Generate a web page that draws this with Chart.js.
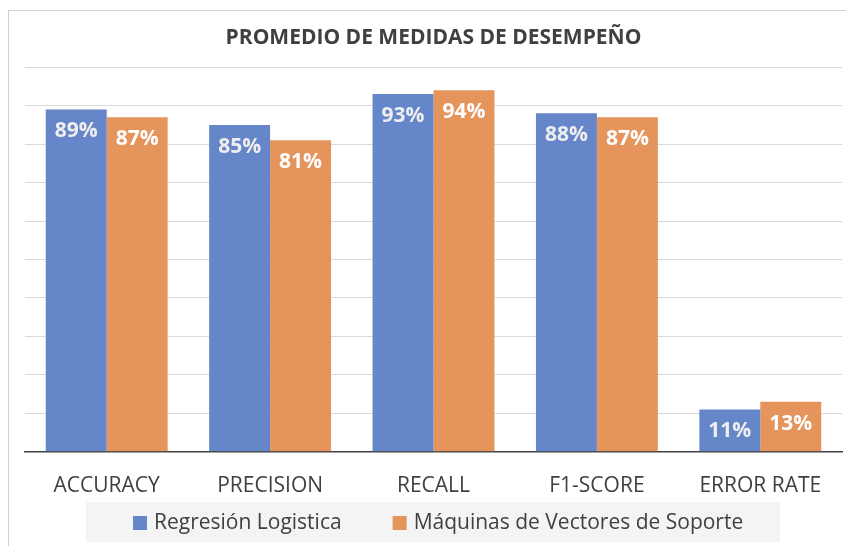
<!DOCTYPE html>
<html>
<head>
<meta charset="utf-8">
<script src="https://cdn.jsdelivr.net/npm/chart.js@4.4.1/dist/chart.umd.min.js"></script>
<style>
  body { margin: 0; background: #fff; }
  canvas { display: block; }
</style>
</head>
<body>
<canvas id="barChart" width="846" height="546"></canvas>
<script>
const categories = ['ACCURACY', 'PRECISION', 'RECALL', 'F1-SCORE', 'ERROR RATE'];
const regresionLogistica = [0.89, 0.85, 0.93, 0.88, 0.11];
const maquinasVectores = [0.87, 0.81, 0.94, 0.87, 0.13];
const seriesNames = ['Regresión Logistica', 'Máquinas de Vectores de Soporte'];

const fontFamily = "'Open Sans', sans-serif";
const textColor = '#404040';

// border, legend (with grey band) and the value labels inside the bars
const extras = {
  id: 'extras',
  beforeDraw(chart) {
    const c = chart.ctx;
    c.save();
    c.strokeStyle = '#d0d0d0';
    c.lineWidth = 1;
    c.strokeRect(8.5, 10.5, 846, 546);
    c.fillStyle = '#f4f4f4';
    c.fillRect(86, 502, 694, 40);
    c.restore();
  },
  afterDraw(chart) {
    const c = chart.ctx;
    c.save();
    c.font = '21px ' + fontFamily;
    c.textBaseline = 'middle';
    let x = 133;
    chart.data.datasets.forEach((ds, i) => {
      c.fillStyle = ds.backgroundColor;
      c.fillRect(x, 516, 14, 14);
      c.fillStyle = textColor;
      c.fillText(ds.label, x + 21, 523);
      x += 21 + c.measureText(ds.label).width + 51;
    });
    c.restore();
  },
  afterDatasetsDraw(chart) {
    const c = chart.ctx;
    c.save();
    c.font = 'bold 21px ' + fontFamily;
    c.textAlign = 'center';
    c.textBaseline = 'middle';
    chart.data.datasets.forEach((ds, i) => {
      chart.getDatasetMeta(i).data.forEach((bar, j) => {
        c.fillStyle = i === 0 ? '#eeeeee' : '#ffffff';
        c.fillText(Math.round(ds.data[j] * 100) + '%', bar.x, bar.y + 22);
      });
    });
    c.restore();
  }
};

new Chart(document.getElementById('barChart'), {
  type: 'bar',
  data: {
    labels: categories,
    datasets: [{
      label: seriesNames[0],
      data: regresionLogistica,
      backgroundColor: '#6686ca',
      categoryPercentage: 0.746,
      barPercentage: 1
    }, {
      label: seriesNames[1],
      data: maquinasVectores,
      backgroundColor: '#e5945c',
      categoryPercentage: 0.746,
      barPercentage: 1
    }]
  },
  options: {
    responsive: false,
    animation: false,
    layout: { padding: { left: 25, right: 4, top: 0, bottom: 33 } },
    scales: {
      x: {
        grid: { display: false },
        border: { color: '#404040', width: 1.5 },
        ticks: { color: textColor, font: { family: fontFamily, size: 21 }, padding: 14 }
      },
      y: {
        min: 0,
        max: 1,
        ticks: { display: false, stepSize: 0.1 },
        border: { display: false },
        grid: { color: '#d9d9d9', drawTicks: false }
      }
    },
    plugins: {
      title: {
        display: true,
        text: 'PROMEDIO DE MEDIDAS DE DESEMPEÑO',
        color: textColor,
        font: { family: fontFamily, size: 21, weight: 'bold' },
        padding: { top: 25, bottom: 17 }
      },
      legend: { display: false },
      tooltip: { enabled: false }
    }
  },
  plugins: [extras]
});
</script>
</body>
</html>
